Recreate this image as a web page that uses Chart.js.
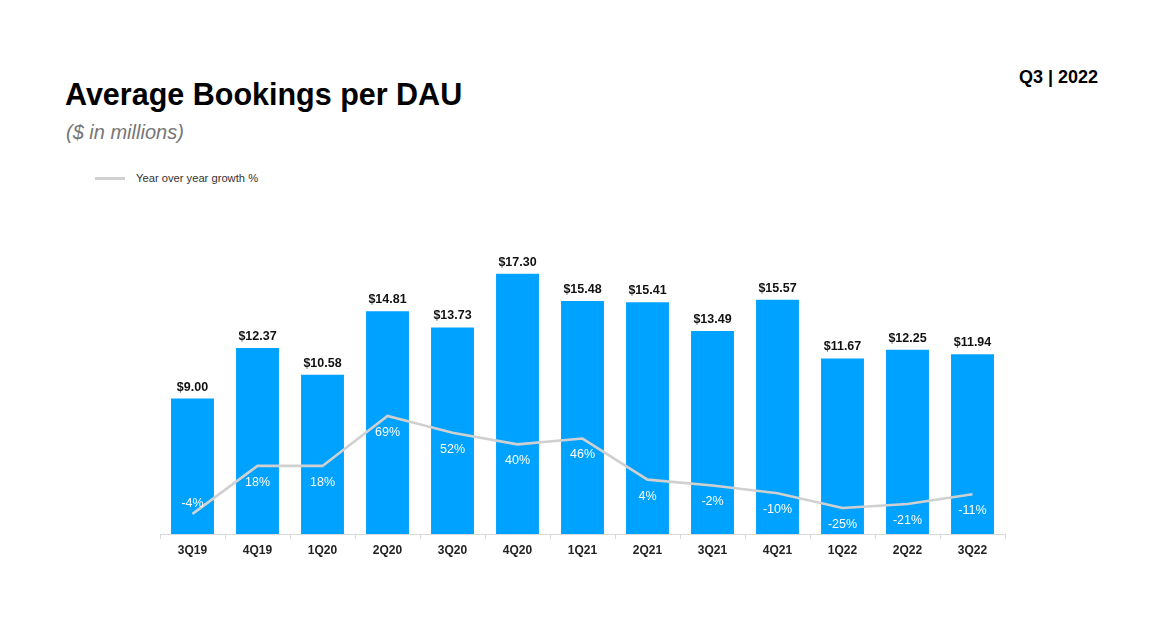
<!DOCTYPE html>
<html>
<head>
<meta charset="utf-8">
<script src="https://cdn.jsdelivr.net/npm/chart.js@4.4.0/dist/chart.umd.min.js"></script>
<style>
  html,body{margin:0;padding:0;background:#fff;}
  body{width:1172px;height:628px;position:relative;overflow:hidden;font-family:"Liberation Sans",Arial,sans-serif;}
  .title{position:absolute;left:65px;top:77px;font-size:30.5px;font-weight:bold;color:#000;}
  .sub{position:absolute;left:66px;top:121px;font-size:20px;font-style:italic;color:#767676;}
  .period{position:absolute;left:1019px;top:67px;font-size:18px;font-weight:bold;color:#000;}
  .legend{position:absolute;left:95px;top:172px;font-size:11.2px;color:#333;}
  .legend .sw{display:inline-block;width:30px;height:3px;background:#d0d0d0;vertical-align:middle;margin-right:11px;position:relative;top:-1px;}
  #wrap{position:absolute;left:0;top:0;width:1172px;height:628px;}
</style>
</head>
<body>
<div class="title">Average Bookings per DAU</div>
<div class="sub">($ in millions)</div>
<div class="period">Q3 | 2022</div>
<div class="legend"><span class="sw"></span>Year over year growth %</div>
<div id="wrap"><canvas id="chart" width="1172" height="628"></canvas></div>
<script>
const quarters = ['3Q19','4Q19','1Q20','2Q20','3Q20','4Q20','1Q21','2Q21','3Q21','4Q21','1Q22','2Q22','3Q22'];
const bookingsPerDau = [9.00, 12.37, 10.58, 14.81, 13.73, 17.30, 15.48, 15.41, 13.49, 15.57, 11.67, 12.25, 11.94];
const growthPct = [-4, 18, 18, 69, 52, 40, 46, 4, -2, -10, -25, -21, -11];
// where the grey line is actually drawn (first point sits lower than its label in the source)
const growthLine = [-31, 18, 18, 69, 52, 40, 46, 4, -2, -10, -25, -21, -11];

const BAR_BLUE = '#00a2ff';
const LINE_GREY = '#d0d0d0';

const labelPlugin = {
  id: 'labels',
  afterDatasetsDraw(chart){
    const ctx = chart.ctx;
    const barMeta = chart.getDatasetMeta(1);
    const yLine = chart.scales.yLine;
    ctx.save();
    ctx.textAlign = 'center';
    // bar values
    ctx.font = 'bold 12.5px "Liberation Sans", Arial, sans-serif';
    ctx.fillStyle = '#111';
    ctx.textBaseline = 'alphabetic';
    barMeta.data.forEach((bar, i)=>{
      ctx.fillText('$' + bookingsPerDau[i].toFixed(2), bar.x, bar.y - 8);
    });
    // growth labels
    ctx.font = '12.5px "Liberation Sans", Arial, sans-serif';
    ctx.fillStyle = '#fff';
    ctx.textBaseline = 'middle';
    barMeta.data.forEach((bar, i)=>{
      const y = yLine.getPixelForValue(growthPct[i]) + 16.5;
      ctx.fillText(growthPct[i] + '%', bar.x, y);
    });
    ctx.restore();
  }
};

new Chart(document.getElementById('chart'), {
  data: {
    labels: quarters,
    datasets: [
      { type:'line', label:'Year over year growth %', data: growthLine, yAxisID:'yLine',
        borderColor: LINE_GREY, borderWidth: 2.6, pointRadius: 0, tension: 0, order: 0 },
      { type:'bar', label:'Average Bookings per DAU', data: bookingsPerDau, yAxisID:'yBar',
        backgroundColor: BAR_BLUE, barPercentage: 0.66, categoryPercentage: 1, order: 1 }
    ]
  },
  options: {
    responsive: false,
    animation: false,
    layout: { padding: { left: 160, right: 167, top: 203, bottom: 54 } },
    plugins: { legend: { display: false }, tooltip: { enabled: false } },
    scales: {
      x: {
        offset: true,
        grid: { offset: true, drawOnChartArea: false, drawTicks: true, tickLength: 5, color: '#d9d9d9' },
        border: { color: '#d9d9d9', width: 1 },
        ticks: { color: '#222', font: { family: '"Liberation Sans", Arial, sans-serif', size: 12, weight: 'bold' }, padding: 4 },
        afterFit(scale){ scale.height = 40; }
      },
      yBar: { display: false, min: 0, max: 22 },
      yLine: { display: false, min: -51.6, max: 286.8 }
    }
  },
  plugins: [labelPlugin]
});
</script>
</body>
</html>
